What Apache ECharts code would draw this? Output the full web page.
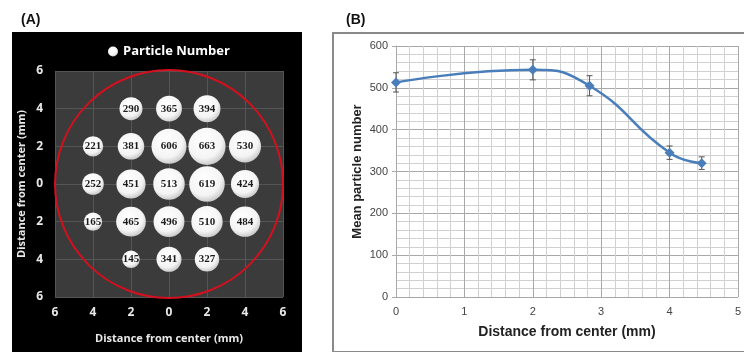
<!DOCTYPE html>
<html><head><meta charset="utf-8">
<script src="https://cdn.jsdelivr.net/npm/echarts@6/dist/echarts.min.js"></script>
<style>html,body{margin:0;padding:0;background:#fff}#c{width:744px;height:352px}</style>
</head><body><div id="c"></div>
<script>
// Panel A: bubble grid (x, y in mm; particle number)
const bubbleX = [-2, 0, 2, -4, -2, 0, 2, 4, -4, -2, 0, 2, 4, -4, -2, 0, 2, 4, -2, 0, 2];
const bubbleY = [4, 4, 4, 2, 2, 2, 2, 2, 0, 0, 0, 0, 0, -2, -2, -2, -2, -2, -4, -4, -4];
const bubbleVal = [290, 365, 394, 221, 381, 606, 663, 530, 252, 451, 513, 619, 424, 165, 465, 496, 510, 484, 145, 341, 327];
const circleCenter = [0, 0];
const circleRadius = 6;
// Panel B: mean particle number vs distance
const distB = [0, 2, 2.83, 4, 4.47];
const meanB = [513, 543, 505, 345, 320];
const errB = [23, 24, 24, 16, 15];

const chart = echarts.init(document.getElementById('c'));
const bubbleData = bubbleX.map((x, i) => [x, bubbleY[i], bubbleVal[i]]);
const lineData = distB.map((x, i) => [x, meanB[i]]);
const errData = distB.map((x, i) => [x, meanB[i] - errB[i], meanB[i] + errB[i]]);

chart.setOption({
  animation: false,
  backgroundColor: '#fff',
  graphic: [
    {type: 'rect', left: 12, top: 32, shape: {width: 290, height: 320}, style: {fill: '#000'}, z: -10},
    {type: 'rect', left: 332, top: 32, shape: {width: 420, height: 319}, style: {fill: '#fff', stroke: '#8a8a8a', lineWidth: 2}, z: -10}
  ],
  title: [
    {text: '(A)', left: 16, top: 8, textStyle: {fontFamily: 'Liberation Sans', fontWeight: 'bold', fontSize: 14, color: '#111'}},
    {text: '(B)', left: 341, top: 8, textStyle: {fontFamily: 'Liberation Sans', fontWeight: 'bold', fontSize: 14, color: '#111'}}
  ],
  legend: {
    data: ['Particle Number'], left: 103, top: 40, icon: 'circle', itemWidth: 10, itemHeight: 10, itemGap: 4,
    textStyle: {color: '#fff', fontFamily: 'Open Sans', fontWeight: 'bold', fontSize: 13}
  },
  grid: [
    {left: 55, top: 71, width: 228, height: 226, show: true, backgroundColor: '#3b3b3b', borderWidth: 0},
    {left: 396, top: 46, width: 342, height: 251}
  ],
  xAxis: [
    {gridIndex: 0, type: 'value', min: -6, max: 6, interval: 2,
     axisLine: {show: false}, axisTick: {show: false},
     axisLabel: {color: '#e8e8e8', fontFamily: 'Open Sans', fontWeight: 'bold', fontSize: 12, margin: 10, formatter: v => String(Math.abs(v))},
     splitLine: {show: true, lineStyle: {color: '#555', width: 1}},
     name: 'Distance from center (mm)', nameLocation: 'middle', nameGap: 36,
     nameTextStyle: {color: '#e8e8e8', fontFamily: 'Open Sans', fontWeight: 'bold', fontSize: 11}},
    {gridIndex: 1, type: 'value', min: 0, max: 5, interval: 1,
     axisLine: {show: false}, axisTick: {show: false},
     minorTick: {show: false, splitNumber: 5},
     minorSplitLine: {show: true, lineStyle: {color: '#d0d0d0', width: 1}},
     splitLine: {show: true, lineStyle: {color: '#a8a8a8', width: 1}},
     axisLabel: {color: '#444', fontFamily: 'Liberation Sans', fontSize: 11, margin: 9},
     name: 'Distance from center (mm)', nameLocation: 'middle', nameGap: 28,
     nameTextStyle: {color: '#222', fontFamily: 'Liberation Sans', fontWeight: 'bold', fontSize: 14}}
  ],
  yAxis: [
    {gridIndex: 0, type: 'value', min: -6, max: 6, interval: 2,
     axisLine: {show: false}, axisTick: {show: false},
     axisLabel: {color: '#e8e8e8', fontFamily: 'Open Sans', fontWeight: 'bold', fontSize: 12, margin: 12, formatter: v => String(Math.abs(v))},
     splitLine: {show: true, lineStyle: {color: '#555', width: 1}},
     name: 'Distance from center (mm)', nameLocation: 'middle', nameGap: 28,
     nameTextStyle: {color: '#e8e8e8', fontFamily: 'Open Sans', fontWeight: 'bold', fontSize: 11}},
    {gridIndex: 1, type: 'value', min: 0, max: 600, interval: 100,
     axisLine: {show: true, lineStyle: {color: '#a8a8a8'}}, axisTick: {show: true, length: 4, lineStyle: {color: '#a8a8a8'}},
     minorSplitLine: {show: true, lineStyle: {color: '#d0d0d0', width: 1}},
     splitLine: {show: true, lineStyle: {color: '#a8a8a8', width: 1}},
     axisLabel: {color: '#444', fontFamily: 'Liberation Sans', fontSize: 11, margin: 8},
     name: 'Mean particle number', nameLocation: 'middle', nameGap: 32,
     nameTextStyle: {color: '#222', fontFamily: 'Liberation Sans', fontWeight: 'bold', fontSize: 13}}
  ],
  series: [
    {type: 'custom', xAxisIndex: 0, yAxisIndex: 0, silent: true, z: 3,
     data: [[circleCenter[0], circleCenter[1], circleRadius]],
     renderItem: (params, api) => {
       const c = api.coord([api.value(0), api.value(1)]);
       const r = api.size([api.value(2), 0])[0];
       return {type: 'circle', shape: {cx: c[0], cy: c[1], r: r}, style: {fill: 'none', stroke: '#d4101e', lineWidth: 2}};
     }},
    {name: 'Particle Number', type: 'scatter', xAxisIndex: 0, yAxisIndex: 0, z: 4,
     data: bubbleData,
     symbolSize: d => 12 + 0.038 * d[2],
     itemStyle: {opacity: 1, color: new echarts.graphic.RadialGradient(0.42, 0.35, 0.72, [
       {offset: 0, color: '#ffffff'}, {offset: 0.65, color: '#f4f4f4'}, {offset: 1, color: '#bcbcbc'}])},
     label: {show: true, position: 'inside', formatter: p => String(p.value[2]),
       color: '#1c1c1c', fontFamily: 'Liberation Serif', fontWeight: 'bold', fontSize: 11}},
    {type: 'line', xAxisIndex: 1, yAxisIndex: 1, data: lineData, smooth: 0.5,
     symbol: 'diamond', symbolSize: 10, z: 5,
     lineStyle: {color: '#4a7ebb', width: 2.5}, itemStyle: {color: '#4a7ebb'}},
    {type: 'custom', xAxisIndex: 1, yAxisIndex: 1, z: 4, data: errData,
     renderItem: (params, api) => {
       const lo = api.coord([api.value(0), api.value(1)]);
       const hi = api.coord([api.value(0), api.value(2)]);
       const w = 3;
       const st = {stroke: '#555', lineWidth: 1};
       return {type: 'group', children: [
         {type: 'line', shape: {x1: lo[0], y1: lo[1], x2: hi[0], y2: hi[1]}, style: st},
         {type: 'line', shape: {x1: lo[0] - w, y1: lo[1], x2: lo[0] + w, y2: lo[1]}, style: st},
         {type: 'line', shape: {x1: hi[0] - w, y1: hi[1], x2: hi[0] + w, y2: hi[1]}, style: st}
       ]};
     }}
  ]
});
</script></body></html>
